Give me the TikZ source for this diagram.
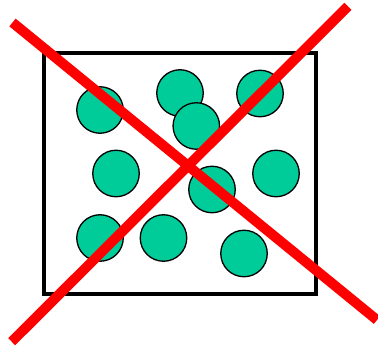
\documentclass[tikz,border=0pt]{standalone}
\definecolor{ball}{RGB}{0,204,153}
\begin{document}
\begin{tikzpicture}[x=1pt,y=-1pt,
  ballst/.style={circle,draw=black,line width=1.3pt,fill=ball,minimum size=46.5pt,inner sep=0pt},
  cross/.style={draw=red,line width=10pt}]
\useasboundingbox (0,0) rectangle (378,350);
\node[draw=black,line width=4pt,minimum width=271.5pt,minimum height=240pt,inner sep=0pt] (box) at (179.75,173.5) {};
\node[ballst] (b1) at (100,110) {};
\node[ballst] (b2) at (180,93) {};
\node[ballst] (b3) at (260,93.5) {};
\node[ballst] (b4) at (196.3,126) {};
\node[ballst] (b5) at (116,173.5) {};
\node[ballst] (b6) at (276,173.5) {};
\node[ballst] (b7) at (212,189.5) {};
\node[ballst] (b8) at (100,238) {};
\node[ballst] (b9) at (163.5,238) {};
\node[ballst] (b10) at (244,253.5) {};
\coordinate (a1) at (12.5,22.5);
\coordinate (a2) at (377,320);
\coordinate (c1) at (348,6.3);
\coordinate (c2) at (11.7,341.7);
\draw[cross] (a1) -- (a2);
\draw[cross] (c1) -- (c2);
\end{tikzpicture}
\end{document}
